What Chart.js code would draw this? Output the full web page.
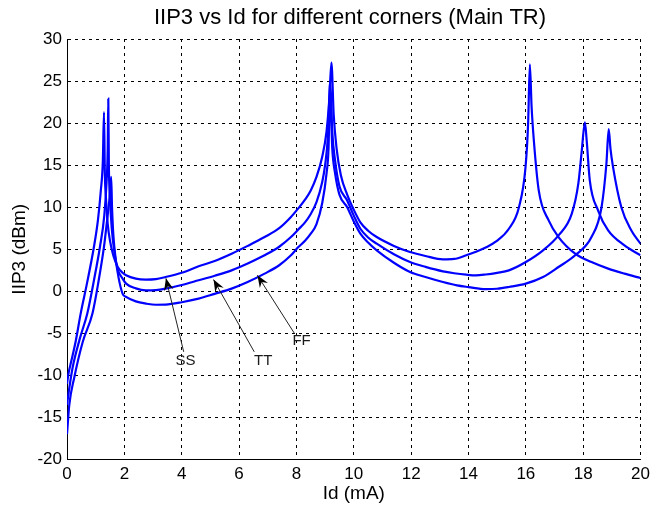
<!DOCTYPE html>
<html>
<head>
<meta charset="utf-8">
<title>IIP3 vs Id</title>
<script src="https://cdn.jsdelivr.net/npm/chart.js@4/dist/chart.umd.min.js"></script>
<style>
  html, body { margin: 0; padding: 0; background: #fff; }
  #wrap { width: 655px; height: 512px; }
</style>
</head>
<body>
<div id="wrap"><canvas id="myChart" width="655" height="512"></canvas></div>
<script>
// values: Id in mA, IIP3 in dBm
var ssX = [0, 0.05, 0.15, 0.3, 0.48, 0.7, 0.94, 1.08, 1.18, 1.25, 1.29, 1.32, 1.36, 1.42, 1.5, 1.62, 1.77, 1.94, 2.06, 2.4, 2.75, 3.1, 3.44, 4.0, 4.59, 5.15, 5.74, 6.3, 6.89, 7.4, 7.81, 8.05, 8.3, 8.5, 8.7, 8.9, 9.05, 9.15, 9.22, 9.3, 9.4, 9.55, 9.77, 10.0, 10.23, 10.5, 10.8, 11.4, 11.96, 12.5, 13.11, 13.5, 13.92, 14.26, 14.6, 14.95, 15.41, 15.76, 15.99, 16.08, 16.14, 16.2, 16.28, 16.45, 16.8, 17.14, 17.72, 18.29, 18.87, 19.44, 20];
var ssY = [-11, -9.8, -8.3, -6, -2.6, 1, 5.3, 8.5, 12, 15.5, 21.3, 14, 11, 8, 6, 4.2, 2.9, 2.2, 1.9, 1.5, 1.39, 1.45, 1.7, 2.2, 2.97, 3.6, 4.47, 5.4, 6.45, 7.5, 8.83, 9.8, 10.9, 12.0, 13.6, 16, 19, 23, 27.2, 21, 17, 13.8, 11.5, 9.7, 8.2, 7.2, 6.45, 5.4, 4.67, 4.2, 3.8, 3.85, 4.28, 4.7, 5.2, 5.9, 7.44, 10, 14.8, 20, 27, 22, 17.9, 12, 8.4, 6.45, 4.48, 3.48, 2.7, 2.1, 1.58];

var ttX = [0, 0.08, 0.2, 0.45, 0.71, 0.95, 1.15, 1.3, 1.38, 1.42, 1.44, 1.46, 1.5, 1.56, 1.66, 1.77, 1.94, 2.06, 2.4, 2.75, 3.1, 3.44, 4.0, 4.59, 5.15, 5.74, 6.3, 6.89, 7.4, 7.81, 8.05, 8.3, 8.5, 8.7, 8.9, 9.0, 9.1, 9.18, 9.25, 9.35, 9.5, 9.77, 10.0, 10.23, 10.5, 10.8, 11.4, 11.96, 12.5, 13.11, 13.5, 13.92, 14.26, 14.6, 15.0, 15.41, 16.0, 16.6, 17.14, 17.6, 17.83, 17.95, 18.06, 18.12, 18.23, 18.52, 18.87, 19.44, 20];
var ttY = [-13.5, -11.5, -9, -5.6, -2.6, 1.5, 5.3, 9, 13, 17, 22.9, 15, 11, 7.5, 4.5, 2.6, 1.5, 0.91, 0.35, 0.12, 0.15, 0.32, 0.75, 1.31, 1.85, 2.49, 3.3, 4.28, 5.3, 6.45, 7.3, 8.2, 9.2, 10.6, 13, 15, 18.5, 25, 19, 15.5, 12.5, 10.8, 9.0, 7.44, 6.4, 5.66, 4.4, 3.48, 2.9, 2.37, 2.15, 1.98, 1.9, 2.0, 2.2, 2.49, 3.48, 4.87, 6.65, 9.2, 12.8, 16.7, 20.1, 18, 13.2, 9.6, 7.24, 5.46, 4.28];

var ffX = [0, 0.08, 0.25, 0.55, 0.89, 1.1, 1.29, 1.4, 1.48, 1.54, 1.57, 1.62, 1.7, 1.8, 1.94, 2.06, 2.4, 2.75, 3.1, 3.44, 4.0, 4.59, 5.15, 5.74, 6.3, 6.89, 7.4, 7.81, 8.05, 8.3, 8.5, 8.7, 8.9, 9.05, 9.12, 9.17, 9.25, 9.35, 9.5, 9.77, 10.0, 10.23, 10.5, 10.8, 11.4, 11.96, 12.5, 13.11, 13.6, 14.0, 14.6, 15.0, 15.41, 16.0, 16.6, 17.14, 17.72, 18.29, 18.64, 18.81, 18.89, 18.95, 19.04, 19.33, 19.68, 20];
var ffY = [-17, -13.5, -10.3, -6, -2.6, 1.2, 5.3, 8.5, 11, 13.6, 10, 6.5, 3.8, 1.6, -0.3, -0.67, -1.2, -1.46, -1.6, -1.58, -1.3, -0.87, -0.3, 0.32, 1.1, 2.1, 3.1, 4.28, 5.2, 6.0, 6.85, 8, 10.5, 14, 17, 24, 17, 14, 11.5, 10, 8.3, 6.85, 5.8, 4.87, 3.4, 2.3, 1.7, 1.1, 0.7, 0.5, 0.25, 0.3, 0.51, 0.91, 1.7, 2.89, 4.28, 6.45, 10, 15.2, 19.3, 17, 14.8, 10, 7.24, 5.66];

// labels and arrows pointing at the curves
var cornerNames = ['SS', 'TT', 'FF'];
var labelX = [4.13, 6.84, 8.18];
var labelY = [-8.3, -8.3, -5.9];
var tailX = [4.07, 6.53, 7.93];
var tailY = [-7.2, -7.2, -5.0];
var tipX = [3.45, 5.11, 6.64];
var tipY = [1.54, 1.39, 1.9];

var xTicks = [0, 2, 4, 6, 8, 10, 12, 14, 16, 18, 20];
var yTicks = [-20, -15, -10, -5, 0, 5, 10, 15, 20, 25, 30];

var chartTitle = 'IIP3 vs Id for different corners (Main TR)';
var xTitle = 'Id (mA)';
var yTitle = 'IIP3 (dBm)';

var FONT = '"Liberation Sans", Arial, Helvetica, sans-serif';

function pts(xs, ys) {
	var out = [];
	for (var i = 0; i < xs.length; i++) out.push({x: xs[i], y: ys[i]});
	return out;
}

function series(name, xs, ys) {
	return {
		label: name,
		data: pts(xs, ys),
		showLine: true,
		borderColor: '#0000ff',
		backgroundColor: '#0000ff',
		borderWidth: 2.2,
		pointRadius: 0,
		cubicInterpolationMode: 'monotone',
		fill: false
	};
}

var overlay = {
	id: 'overlay',
	afterDraw: function (chart) {
		var ctx = chart.ctx;
		var xs = chart.scales.x, ys = chart.scales.y;
		var a = chart.chartArea;
		ctx.save();
		ctx.fillStyle = '#000';
		ctx.textAlign = 'center';
		ctx.textBaseline = 'middle';

		ctx.font = '22px ' + FONT;
		ctx.fillText(chartTitle, 350, 18);

		ctx.font = '19px ' + FONT;
		ctx.fillText(xTitle, (a.left + a.right) / 2, 494);
		ctx.save();
		ctx.translate(20, (a.top + a.bottom) / 2);
		ctx.rotate(-Math.PI / 2);
		ctx.fillText(yTitle, 0, 0);
		ctx.restore();

		for (var i = 0; i < cornerNames.length; i++) {
			var x0 = xs.getPixelForValue(tailX[i]), y0 = ys.getPixelForValue(tailY[i]);
			var x1 = xs.getPixelForValue(tipX[i]), y1 = ys.getPixelForValue(tipY[i]);
			var ang = Math.atan2(y1 - y0, x1 - x0);
			ctx.strokeStyle = '#222';
			ctx.lineWidth = 1;
			ctx.beginPath();
			ctx.moveTo(x0, y0);
			ctx.lineTo(x1, y1);
			ctx.stroke();
			ctx.fillStyle = '#000';
			ctx.beginPath();
			ctx.moveTo(x1, y1);
			ctx.lineTo(x1 - 13 * Math.cos(ang - 0.38), y1 - 13 * Math.sin(ang - 0.38));
			ctx.lineTo(x1 - 8 * Math.cos(ang), y1 - 8 * Math.sin(ang));
			ctx.lineTo(x1 - 13 * Math.cos(ang + 0.38), y1 - 13 * Math.sin(ang + 0.38));
			ctx.closePath();
			ctx.fill();

			ctx.fillStyle = '#1a1a1a';
			ctx.font = '15px ' + FONT;
			ctx.fillText(cornerNames[i], xs.getPixelForValue(labelX[i]), ys.getPixelForValue(labelY[i]));
		}
		ctx.restore();
	}
};

var ctx = document.getElementById('myChart');
var myChart = new Chart(ctx, {
	type: 'scatter',
	data: {
		datasets: [
			series('SS', ssX, ssY),
			series('TT', ttX, ttY),
			series('FF', ffX, ffY)
		]
	},
	options: {
		responsive: false,
		animation: false,
		layout: { padding: { top: 39, right: 9, left: 0, bottom: 0 } },
		plugins: {
			legend: { display: false },
			tooltip: { enabled: false },
			title: { display: false }
		},
		scales: {
			x: {
				type: 'linear',
				min: 0,
				max: 20,
				afterBuildTicks: function (scale) {
					scale.ticks = xTicks.map(function (v) { return {value: v}; });
				},
				afterFit: function (scale) { scale.height = 52.5; },
				grid: { color: '#000', lineWidth: 1, drawTicks: false },
				border: { display: true, color: '#000', width: 1, dash: [3, 4] },
				ticks: {
					color: '#000',
					padding: 5,
					maxRotation: 0,
					font: { size: 17, family: FONT }
				}
			},
			y: {
				type: 'linear',
				min: -20,
				max: 30,
				afterBuildTicks: function (scale) {
					scale.ticks = yTicks.map(function (v) { return {value: v}; });
				},
				afterFit: function (scale) { scale.width = 67; },
				grid: { color: '#000', lineWidth: 1, drawTicks: false },
				border: { display: true, color: '#000', width: 1, dash: [3, 4] },
				ticks: {
					color: '#000',
					padding: 5,
					font: { size: 17, family: FONT }
				}
			}
		}
	},
	plugins: [overlay]
});
</script>
</body>
</html>
